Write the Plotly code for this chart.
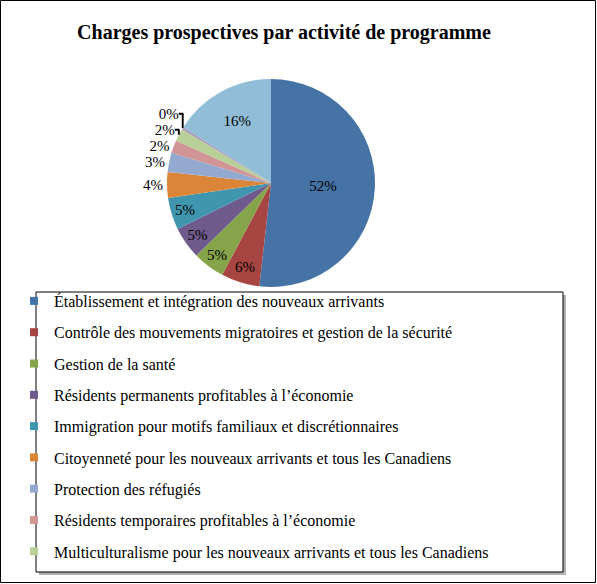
import plotly.graph_objects as go

# slices in drawing order (clockwise from 12 o'clock)
labels = [
    "Établissement et intégration des nouveaux arrivants",
    "Contrôle des mouvements migratoires et gestion de la sécurité",
    "Gestion de la santé",
    "Résidents permanents profitables à l’économie",
    "Immigration pour motifs familiaux et discrétionnaires",
    "Citoyenneté pour les nouveaux arrivants et tous les Canadiens",
    "Protection des réfugiés",
    "Résidents temporaires profitables à l’économie",
    "Multiculturalisme pour les nouveaux arrivants et tous les Canadiens",
    "Influence canadienne sur les orientations internationales",
    "Services internes",
]
values = [52, 6, 5, 5, 5, 4, 3, 2, 2, 0.4, 16]
colors = [
    "#4573a6", "#a64542", "#86a44a", "#6f5a8c", "#4196af", "#da8538",
    "#93a9d0", "#d09594", "#b8cf98", "#a99bbd", "#92bdd6",
]
text_pos = ["inside"] * 5 + ["outside"] * 5 + ["inside"]
n_legend = 9  # only the first nine categories fit in the legend box

FONT = "Liberation Serif, Times New Roman, serif"
W, H = 597, 584

fig = go.Figure()

cx, cy, r = 271, 183, 104
fig.add_trace(
    go.Pie(
        labels=labels,
        values=values,
        sort=False,
        direction="clockwise",
        rotation=0,
        marker=dict(colors=colors, line=dict(width=0)),
        texttemplate="%{percent:.0%}",
        textposition=text_pos,
        insidetextorientation="horizontal",
        textfont=dict(family=FONT, size=15, color="black"),
        showlegend=False,
        hoverinfo="label+percent",
        domain=dict(x=[(cx - r) / W, (cx + r) / W],
                    y=[1 - (cy + r) / H, 1 - (cy - r) / H]),
    )
)

# legend entries (square swatches)
for lab, col in zip(labels[:n_legend], colors[:n_legend]):
    fig.add_trace(
        go.Scatter(
            x=[None], y=[None],
            mode="markers",
            name=lab,
            legendgroup=lab,
            marker=dict(symbol="square", size=8, color=col),
        )
    )

fig.update_layout(
    width=W,
    height=H,
    margin=dict(l=0, r=0, t=0, b=0),
    paper_bgcolor="white",
    plot_bgcolor="white",
    font=dict(family=FONT, color="black"),
    title=dict(
        text="<b>Charges prospectives par activité de programme</b>",
        x=284 / W, xanchor="center", y=1 - 32 / H, yanchor="middle",
        font=dict(family=FONT, size=20, color="black"),
    ),
    xaxis=dict(visible=False),
    yaxis=dict(visible=False),
    legend=dict(
        x=14 / W, xanchor="left",
        y=1 - 284 / H, yanchor="top",
        font=dict(family=FONT, size=16, color="black"),
        tracegroupgap=7.5,
        itemwidth=30,
        bgcolor="rgba(0,0,0,0)",
    ),
    shapes=[
        # legend box shadow
        dict(type="rect", xref="paper", yref="paper",
             x0=39 / W, x1=566 / W, y0=1 - 575 / H, y1=1 - 295 / H,
             line=dict(width=0), fillcolor="#b0b0b0", layer="below"),
        dict(type="rect", xref="paper", yref="paper",
             x0=36 / W, x1=563 / W, y0=1 - 572 / H, y1=1 - 292 / H,
             line=dict(color="black", width=1), fillcolor="white", layer="below"),
        # outer frame
        dict(type="rect", xref="paper", yref="paper",
             x0=0.5 / W, x1=595.5 / W, y0=1 - 582.5 / H, y1=1 - 0.5 / H,
             line=dict(color="black", width=1)),
    ],
)

fig.write_html(
    "out.html",
    config={"displayModeBar": False},
    post_script="document.body.style.margin='0';",
)
